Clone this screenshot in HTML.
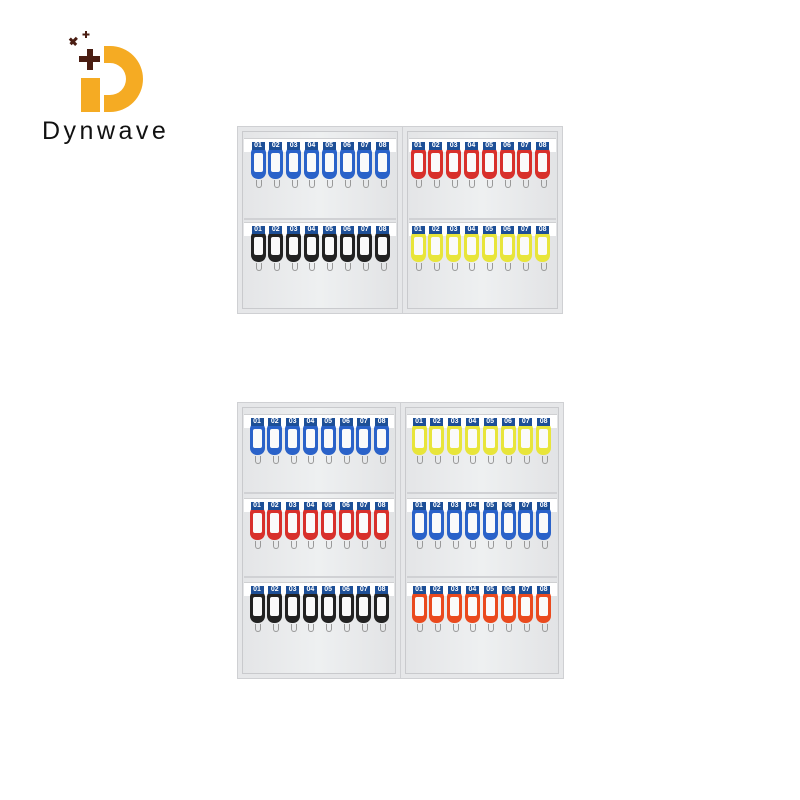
<!DOCTYPE html>
<html><head><meta charset="utf-8"><style>
body{margin:0;width:800px;height:800px;background:#fff;position:relative;overflow:hidden;font-family:"Liberation Sans",sans-serif}
.a{position:absolute}
.panel{position:absolute;background:linear-gradient(90deg,#e4e5e7,#eef0f1 50%,#e2e3e5);border:4px solid #e6e7e9;box-shadow:inset 0 0 0 1px #c9cacd, 0 0 0 1px #cfd0d3;box-sizing:border-box}
.strip{position:absolute;background:#fff;height:13px;border-top:1px solid #cfd0d2}
.lab{position:absolute;width:13px;height:8px;background:#1d4f97;color:#fff;font-size:7px;line-height:8px;text-align:center;font-weight:bold}
.tag{position:absolute;width:15px;border-radius:6px 6px 7px 7px}
.win{position:absolute;left:3px;right:3px;top:6px;bottom:7px;background:#fafafa;border-radius:2px}
.hook{position:absolute;width:4px;height:7px;border:1px solid #999;border-top:none;border-radius:0 0 3px 3px}
.div{position:absolute;height:2px;background:#d0d1d4}
</style></head><body>
<svg class="a" style="left:64px;top:26px" width="90" height="90" viewBox="0 0 90 90">
 <rect x="17" y="52" width="19" height="34" fill="#f5ab23"/>
 <path d="M40 20 h6 a33 33 0 0 1 0 66 h-6 v-17 h6 a16 16 0 0 0 0 -32 h-6z" fill="#f5ab23"/>
 <rect x="23" y="23" width="6" height="21" fill="#4a1d12"/><rect x="15" y="30" width="21" height="6" fill="#4a1d12"/>
 <rect x="5" y="14" width="9" height="3" fill="#4a1d12" transform="rotate(45 9 15)"/><rect x="5" y="14" width="9" height="3" fill="#4a1d12" transform="rotate(-45 9 15)"/>
 <rect x="21" y="5" width="2" height="7" fill="#4a1d12"/><rect x="18.5" y="7.5" width="7" height="2" fill="#4a1d12"/>
</svg>
<div class="a" style="left:42px;top:117px;font-size:25px;color:#111;letter-spacing:3.5px">Dynwave</div>
<div id="c"></div>
<script>
var c=document.getElementById('c'),h='';
var col={b:'#2a62c9',r:'#d8302b',k:'#222',y:'#e8e53a',o:'#ea4a1e'};
function panel(x,y,w,hh){h+='<div class="panel" style="left:'+x+'px;top:'+y+'px;width:'+w+'px;height:'+hh+'px"></div>';}
function row(x0,step,sx,sw,y,color,th){
 h+='<div class="strip" style="left:'+sx+'px;top:'+y+'px;width:'+sw+'px"></div>';
 for(var i=0;i<8;i++){var cx=x0+i*step;
  h+='<div class="tag" style="left:'+(cx-7.5)+'px;top:'+(y+9)+'px;height:'+th+'px;background:'+col[color]+'"><div class="win"></div></div>';
  h+='<div class="lab" style="left:'+(cx-6.5)+'px;top:'+(y+4)+'px">0'+(i+1)+'</div>';
  h+='<div class="hook" style="left:'+(cx-2)+'px;top:'+(y+9+th+1)+'px"></div>';}
}
panel(238,127,164,186);panel(403,127,159,186);
h+='<div class="div" style="left:244px;top:218px;width:152px"></div><div class="div" style="left:409px;top:218px;width:147px"></div>';
row(258,17.8,244,152,138,'b',32);row(418,17.8,409,147,138,'r',32);
row(258,17.8,244,152,222,'k',31);row(418,17.8,409,147,222,'y',31);
panel(238,403,162,275);panel(401,403,162,275);
h+='<div class="div" style="left:244px;top:492px;width:150px"></div><div class="div" style="left:407px;top:492px;width:150px"></div><div class="div" style="left:244px;top:576px;width:150px"></div><div class="div" style="left:407px;top:576px;width:150px"></div>';
row(257,17.8,244,150,414,'b',32);row(419,17.8,407,150,414,'y',32);
row(257,17.8,244,150,498,'r',33);row(419,17.8,407,150,498,'b',33);
row(257,17.8,244,150,582,'k',32);row(419,17.8,407,150,582,'o',32);
c.innerHTML=h;
</script>
</body></html>
